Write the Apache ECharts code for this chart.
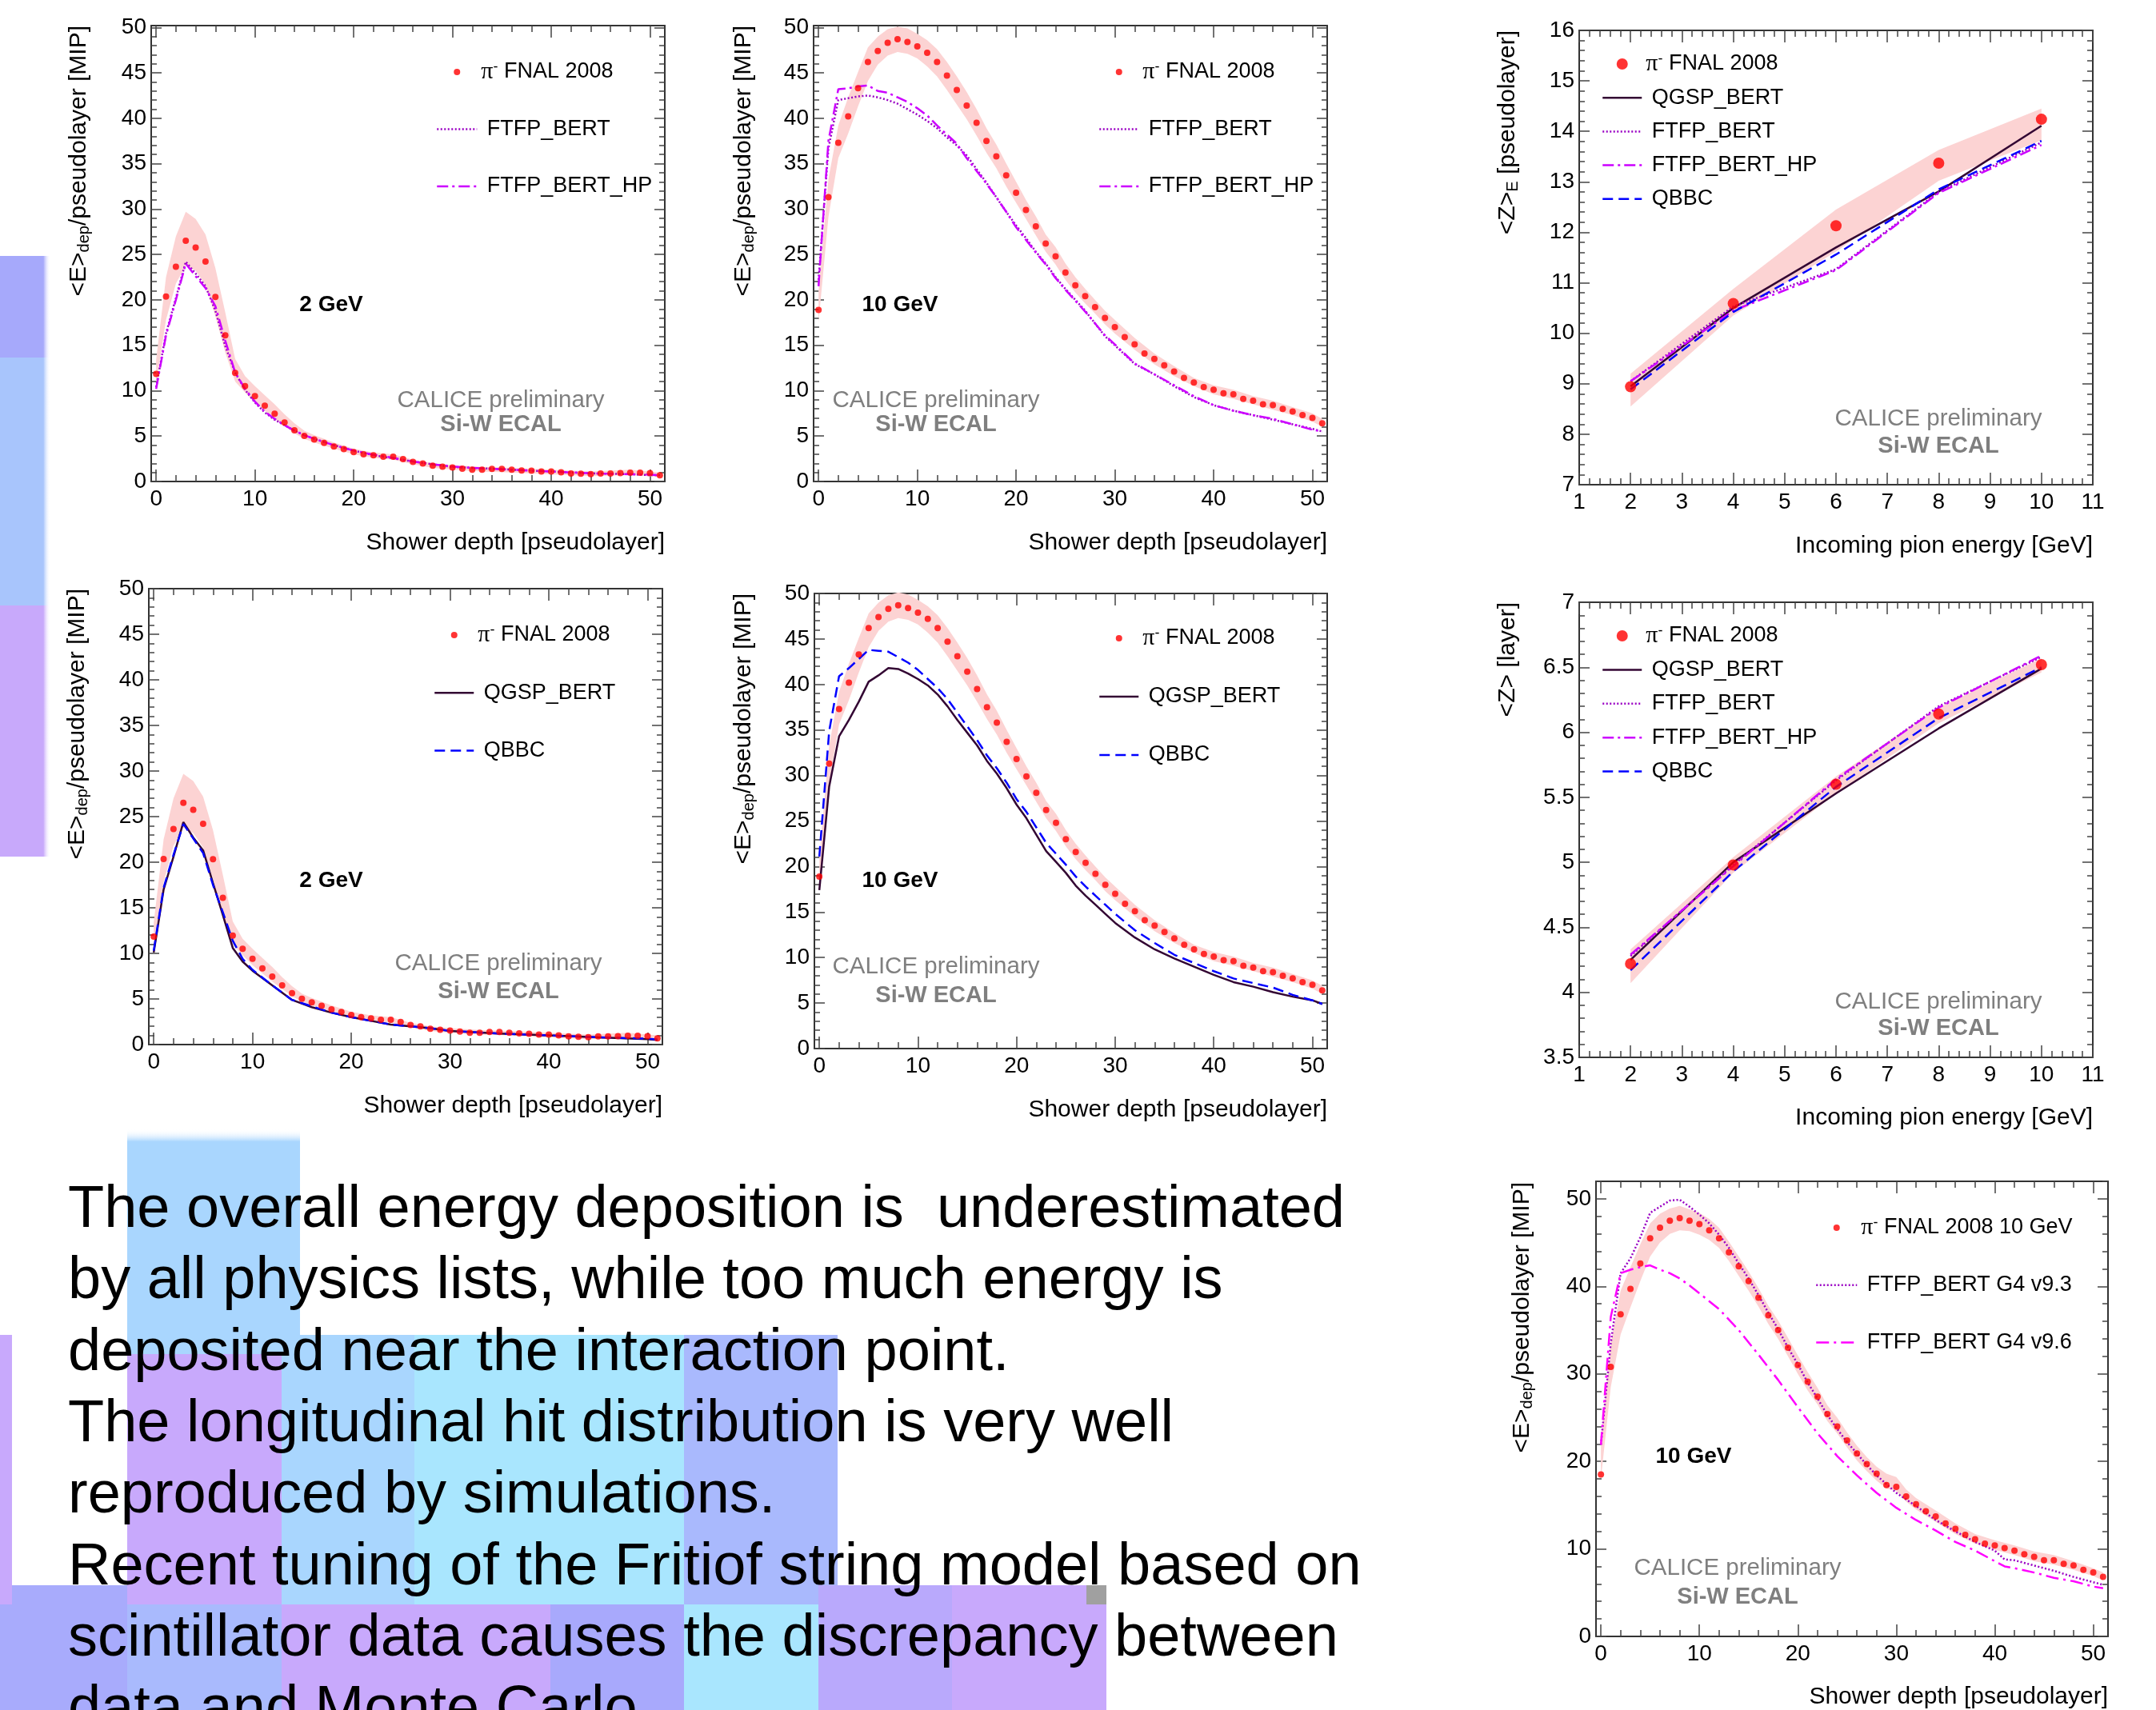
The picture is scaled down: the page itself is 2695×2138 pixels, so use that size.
<!DOCTYPE html>
<html><head><meta charset="utf-8">
<script src="https://cdn.jsdelivr.net/npm/echarts@6/dist/echarts.min.js"></script>
<style>html,body{margin:0;padding:0;background:#fff}#c{width:2695px;height:2138px}</style>
</head><body><div id="c"></div>
<script>
// ---------------- DATA ----------------
const depth = [0,1,2,3,4,5,6,7,8,9,10,11,12,13,14,15,16,17,18,19,20,21,22,23,24,25,26,27,28,29,30,31,32,33,34,35,36,37,38,39,40,41,42,43,44,45,46,47,48,49,50,51];
const pi2GeV = [11.84,20.36,23.64,26.52,25.75,24.21,20.32,16.10,11.96,10.50,9.41,8.35,7.46,6.49,5.64,5.03,4.62,4.26,3.85,3.57,3.24,3.00,2.88,2.72,2.72,2.47,2.15,1.99,1.74,1.62,1.54,1.42,1.30,1.30,1.38,1.38,1.30,1.22,1.18,1.09,1.09,1.01,0.89,0.85,0.81,0.89,0.89,0.93,0.97,0.97,0.93,0.69];
const pi10GeV = [18.9,31.3,37.3,40.2,43.3,46.2,47.4,48.3,48.7,48.4,47.9,47.2,46.2,44.7,43.1,41.4,39.5,37.5,35.8,33.7,31.8,29.9,28.1,26.2,24.8,23.0,21.6,20.4,19.2,18.0,17.0,15.9,15.1,14.1,13.5,12.8,12.1,11.4,10.9,10.4,10.1,9.7,9.6,9.1,8.9,8.5,8.4,8.0,7.7,7.3,7.0,6.4];
const pi10GeVb = [18.5,30.8,36.8,39.7,42.6,45.5,46.7,47.5,47.8,47.5,47.1,46.4,45.5,43.9,42.3,40.6,38.7,36.7,35.0,33.0,31.0,29.1,27.4,25.4,24.0,22.4,20.9,19.7,18.6,17.3,17.1,16.0,15.1,14.3,13.7,12.9,12.3,11.6,11.1,10.6,10.4,10.1,9.8,9.4,9.1,8.7,8.7,8.3,8.1,7.6,7.3,6.8];

const band2X  = [0,1,2,3,4,5,6,7,8,9,10,11,12,13,14,15,16,18,20,22,24,26,28,30,33,36,40,44,48,51];
const band2Lo = [10.8,17.8,21.8,23.8,23.2,21.6,18.2,14.2,11.0,9.8,8.7,7.8,6.9,6.1,5.3,4.7,4.3,3.6,3.0,2.6,2.4,1.9,1.5,1.3,1.1,1.0,0.8,0.6,0.7,0.5];
const band2Hi = [13.4,22.5,27.0,29.7,28.9,27.2,23.5,18.6,13.5,11.6,10.5,9.5,8.5,7.4,6.4,5.6,5.1,4.3,3.6,3.2,3.0,2.4,2.0,1.8,1.6,1.5,1.3,1.1,1.3,1.0];

const band10X  = [0,1,2,3,4,5,6,7,8,9,10,11,12,13,14,15,16,17,18,19,20,21,22,23,24,25,26,27,28,29,30,32,34,36,38,40,42,44,46,48,50,51];
const band10Lo = [17.5,29.1,35.6,38.3,41.3,44.1,45.9,46.9,47.3,47.1,46.6,45.7,44.6,43.1,41.5,39.9,38.1,36.2,34.5,32.5,30.7,28.9,27.1,25.3,23.9,22.2,20.8,19.6,18.5,17.3,16.3,14.5,12.9,11.6,10.5,9.6,9.1,8.5,7.9,7.3,6.6,6.0];
const band10Hi = [21.0,33.3,39.2,42.3,45.1,47.8,49.0,49.8,50.1,49.9,49.3,48.6,47.6,46.2,44.6,42.9,41.0,38.9,37.1,35.0,33.0,31.0,29.2,27.2,25.8,24.0,22.5,21.2,20.0,18.8,17.8,15.8,14.1,12.7,11.4,10.6,10.1,9.4,8.9,8.2,7.5,6.9];

const band7X  = [0,1,2,3,4,5,6,7,8,9,10,11,12,13,14,15,16,17,18,19,20,21,22,23,24,25,26,27,28,29,30,31,32,34,36,38,40,42,44,46,48,50,51];
const band7Lo = [18.0,28.5,34.5,37.6,40.6,43.4,45.0,46.0,46.4,46.3,45.9,45.3,44.4,42.9,41.2,39.5,37.7,35.7,34.0,32.0,30.0,28.1,26.5,24.6,23.2,21.6,20.1,18.9,17.8,16.9,16.6,15.4,14.5,13.1,11.7,10.6,9.9,9.3,8.6,8.2,7.6,6.9,6.4];
const band7Hi = [22.5,33.5,39.5,42.2,44.8,47.2,48.3,48.9,49.2,48.8,48.4,47.7,46.7,45.1,43.4,41.7,39.8,37.8,36.1,34.1,32.1,30.2,28.4,26.4,25.0,23.3,21.8,20.5,19.4,18.6,18.2,16.8,15.8,14.4,12.9,11.7,11.0,10.4,9.7,9.3,8.6,7.8,7.3];

const mc2X    = [0,1,2,3,4,5,6,7,8,9,10,11,12,13,14,15,16,18,20,22,24,26,28,30,32,34,36,38,40,42,44,46,48,50,51];
const ftfp2   = [10.4,16.3,20.2,24.2,22.9,21.5,18.8,14.9,12.0,10.1,8.7,7.6,6.8,6.2,5.6,5.1,4.7,4.0,3.4,2.9,2.55,2.2,1.9,1.6,1.5,1.4,1.3,1.2,1.1,1.0,0.9,0.85,0.8,0.7,0.69];
const ftfpHP2 = [10.2,16.1,20.0,24.0,22.6,21.3,19.3,15.5,12.0,10.2,8.8,7.7,6.9,6.2,5.6,5.1,4.7,4.0,3.4,2.95,2.6,2.2,1.9,1.65,1.5,1.4,1.3,1.2,1.1,1.0,0.9,0.85,0.8,0.75,0.7];
const mcQ2X   = [0,1,2,3,4,5,6,7,8,9,10,12,14,16,18,20,22,24,26,28,30,35,40,45,50,51];
const qgsp2   = [10.1,17.0,20.6,24.4,22.7,21.3,17.7,14.2,10.6,9.1,8.1,6.5,4.9,4.1,3.5,3.0,2.6,2.2,2.0,1.8,1.5,1.2,1.0,0.8,0.6,0.5];
const qbbc2   = [10.3,17.2,20.8,24.2,22.6,21.0,17.5,14.5,11.4,9.4,8.2,6.5,4.9,4.2,3.5,3.0,2.6,2.2,2.0,1.8,1.5,1.2,1.0,0.8,0.65,0.55];

const mc10X    = [0,1,2,3,4,5,6,7,8,9,10,11,12,13,14,15,16,17,18,19,20,21,22,23,24,25,26,27,28,29,30,32,34,36,38,40,42,44,46,48,50,51];
const ftfp10   = [22.2,36.7,42.0,42.2,42.4,42.5,42.3,42.0,41.6,41.0,40.4,39.7,38.9,37.9,37.0,35.9,34.4,32.9,31.3,29.7,28.2,26.8,25.3,24.0,22.5,21.2,20.0,18.8,17.4,16.0,15.0,12.95,11.8,10.5,9.3,8.4,7.8,7.3,6.8,6.3,5.8,5.5];
const ftfpHP10 = [21.5,37.5,43.2,43.3,43.5,43.6,43.0,42.8,42.3,41.8,41.1,40.3,39.2,38.2,37.2,35.6,34.2,32.8,31.3,29.7,28.0,26.6,25.2,23.9,22.4,21.1,19.9,18.7,17.4,16.1,15.1,13.0,11.8,10.6,9.4,8.4,7.8,7.3,6.9,6.3,5.7,5.5];
const qgsp10   = [17.4,28.8,34.3,36.1,38.1,40.3,41.0,41.8,41.7,41.2,40.6,39.9,38.9,37.6,36.1,34.7,33.3,31.6,30.2,28.6,26.8,25.3,23.5,21.7,20.5,19.3,17.9,16.8,15.8,14.8,13.8,12.2,10.9,9.9,9.0,8.1,7.3,6.8,6.2,5.7,5.3,4.9];
const qbbc10   = [21.1,34.9,40.9,41.8,42.8,43.8,43.7,43.6,43.0,42.4,41.6,40.6,39.6,38.4,36.9,35.4,33.9,32.2,30.8,29.2,27.4,26.0,24.3,22.6,21.4,20.2,18.9,17.8,16.8,15.8,14.8,13.0,11.6,10.3,9.4,8.5,7.7,7.2,6.7,5.9,5.3,4.9];

const mc93X = [0,1,2,3,4,5,6,7,8,9,10,11,12,13,14,15,16,17,18,19,20,21,22,23,24,25,26,27,28,29,30,32,34,36,38,40,41,42,44,46,48,50,51];
const g4v93 = [21.9,33.5,41.5,43.2,45.6,48.4,49.1,49.8,49.9,49.1,48.2,47.2,45.9,44.4,42.6,40.9,39.0,37.0,35.1,33.0,31.1,29.0,27.2,25.3,23.7,22.2,20.9,19.6,18.4,17.4,16.4,14.9,13.3,12.0,10.8,9.8,8.8,8.7,8.1,7.5,6.8,6.2,5.9];
const mc96X = [0,1,2,3,4,5,6,7,8,9,10,12,14,16,18,20,22,24,26,28,30,32,34,36,38,40,41,42,44,46,48,50,51];
const g4v96 = [21.9,36.5,41.5,41.9,42.2,42.4,41.9,41.5,40.9,40.1,39.2,37.4,35.0,32.2,29.3,26.2,23.2,20.6,18.4,16.4,14.7,13.3,12.1,10.8,9.8,8.6,8.0,7.8,7.3,6.7,6.3,5.7,5.5];

const energy    = [2,4,6,8,10];
const zE_pi     = [8.94,10.59,12.13,13.37,14.24];
const zE_lo     = [8.55,10.35,11.62,13.02,13.82];
const zE_hi     = [9.20,10.88,12.45,13.63,14.45];
const zE_qgsp   = [8.95,10.50,11.70,12.81,14.11];
const zE_ftfp   = [9.05,10.53,11.27,12.80,13.78];
const zE_ftfpHP = [9.05,10.45,11.25,12.78,13.73];
const zE_qbbc   = [8.89,10.42,11.56,12.85,13.81];

const z_pi     = [4.22,4.98,5.60,6.14,6.52];
const z_lo     = [4.07,4.92,5.53,6.07,6.46];
const z_hi     = [4.33,5.04,5.66,6.19,6.57];
const z_qgsp   = [4.25,5.00,5.53,6.03,6.49];
const z_ftfp   = [4.28,4.98,5.63,6.20,6.58];
const z_ftfpHP = [4.29,4.97,5.64,6.19,6.59];
const z_qbbc   = [4.17,4.93,5.58,6.11,6.50];

// tick labels
const depthTicks  = [0,10,20,30,40,50];
const mipTicks    = [0,5,10,15,20,25,30,35,40,45,50];
const mipTicks10  = [0,10,20,30,40,50];
const energyTicks = [1,2,3,4,5,6,7,8,9,10,11];
const zETicks     = [7,8,9,10,11,12,13,14,15,16];
const zTicks      = [3.5,4,4.5,5,5.5,6,6.5,7];

// ---------------- LAYOUT ----------------
const FONT = 'Liberation Sans';
const panels = [
  {g:[189,32,831,602],   x:[-0.5,51.5], y:[0,50.2], xMaj:depthTicks,  xStep:2,   yMaj:mipTicks,   yStep:1},
  {g:[1017,32,1659,602], x:[-0.5,51.5], y:[0,50.2], xMaj:depthTicks,  xStep:2,   yMaj:mipTicks,   yStep:1},
  {g:[1974,38,2616,606], x:[1,11],      y:[7,16],   xMaj:energyTicks, xStep:0.2, yMaj:zETicks,    yStep:0.2},
  {g:[186,736,828,1306], x:[-0.5,51.5], y:[0,50],   xMaj:depthTicks,  xStep:2,   yMaj:mipTicks,   yStep:1},
  {g:[1018,742,1659,1311],x:[-0.5,51.5],y:[0,50],   xMaj:depthTicks,  xStep:2,   yMaj:mipTicks,   yStep:1},
  {g:[1974,753,2616,1322],x:[1,11],     y:[3.5,7],  xMaj:energyTicks, xStep:0.2, yMaj:zTicks,     yStep:0.1},
  {g:[1995,1477,2635,2046],x:[-0.5,51.5],y:[0,52],  xMaj:depthTicks,  xStep:2,   yMaj:mipTicks10, yStep:2}
];
function minorTicks(lo, hi, step, majors) {
  const out = [];
  const n0 = Math.ceil(lo / step - 1e-9), n1 = Math.floor(hi / step + 1e-9);
  for (let n = n0; n <= n1; n++) {
    const v = +(n * step).toFixed(6);
    if (!majors.some(m => Math.abs(m - v) < 1e-6)) out.push(v);
  }
  return out;
}
const grids = [], xAxes = [], yAxes = [];
panels.forEach((p, i) => {
  grids.push({left:p.g[0], top:p.g[1], width:p.g[2]-p.g[0], height:p.g[3]-p.g[1], containLabel:false});
  const xMin = minorTicks(p.x[0], p.x[1], p.xStep, p.xMaj);
  const yMin = minorTicks(p.y[0], p.y[1], p.yStep, p.yMaj);
  const lab = {show:true, margin:8, fontSize:28, color:'#000', fontFamily:FONT};
  const line = {show:true, onZero:false, lineStyle:{color:'#333', width:2}};
  const noLine = {show:false, onZero:false};
  const tk = (vals, len) => ({show:true, inside:true, length:len, customValues:vals, lineStyle:{color:'#444', width:1.5}});
  const base = {gridIndex:i, type:'value', splitLine:{show:false}, minorTick:{show:false}};
  [['bottom',true],['top',false]].forEach(([pos, lbl]) => {
    xAxes.push(Object.assign({}, base, {position:pos, min:p.x[0], max:p.x[1], axisLine:line, axisTick:tk(p.xMaj,15),
      axisLabel: lbl ? Object.assign({}, lab, {customValues:p.xMaj}) : {show:false}}));
    xAxes.push(Object.assign({}, base, {position:pos, min:p.x[0], max:p.x[1], axisLine:noLine, axisTick:tk(xMin,8), axisLabel:{show:false}}));
  });
  [['left',true],['right',false]].forEach(([pos, lbl]) => {
    yAxes.push(Object.assign({}, base, {position:pos, min:p.y[0], max:p.y[1], axisLine:line, axisTick:tk(p.yMaj,13),
      axisLabel: lbl ? Object.assign({}, lab, {customValues:p.yMaj, margin:6}) : {show:false}}));
    yAxes.push(Object.assign({}, base, {position:pos, min:p.y[0], max:p.y[1], axisLine:noLine, axisTick:tk(yMin,7), axisLabel:{show:false}}));
  });
});

// ---------------- SERIES ----------------
const ST = {
  'FTFP_BERT':    {color:'#9a00c4', width:2.5, type:[2,2.5]},
  'FTFP_BERT_HP': {color:'#cc00ff', width:2.5, type:[14,5,3,5]},
  'QGSP_BERT':    {color:'#330633', width:2.5, type:'solid'},
  'QBBC':         {color:'#0000ff', width:2.5, type:[13,7]},
  'FTFP_BERT G4 v9.3': {color:'#9a00c4', width:2.5, type:[2,2.5]},
  'FTFP_BERT G4 v9.6': {color:'#ff00ff', width:2.5, type:[16,6,3,6]}
};
const pairs = (xs, ys) => xs.map((x, k) => [x, ys[k]]);
const series = [];
function band(pi, xs, lo, hi) {
  series.push({type:'custom', xAxisIndex:4*pi, yAxisIndex:4*pi, silent:true, z:1,
    data: xs.map((x, k) => [x, lo[k], hi[k]]), encode:{x:0, y:[1,2]},
    renderItem: (params, api) => {
      if (params.dataIndex !== 0) return null;
      const pts = [];
      for (let k = 0; k < xs.length; k++) pts.push(api.coord([xs[k], hi[k]]));
      for (let k = xs.length - 1; k >= 0; k--) pts.push(api.coord([xs[k], lo[k]]));
      return {type:'polygon', shape:{points:pts}, style:{fill:'#fcd3d3'}};
    }});
}
function mc(pi, name, xs, ys) {
  series.push({type:'line', name, xAxisIndex:4*pi, yAxisIndex:4*pi, data:pairs(xs, ys), symbol:'none',
    lineStyle:Object.assign({}, ST[name]), z:5, silent:true, animation:false});
}
function pts(pi, name, xs, ys, size) {
  series.push({type:'scatter', name, xAxisIndex:4*pi, yAxisIndex:4*pi, data:pairs(xs, ys), symbol:'circle',
    symbolSize:size, itemStyle:{color:'#ff0000'}, z:8, silent:true});
}
const PI = 'π- FNAL 2008', PI10 = 'π- FNAL 2008 10 GeV';
band(0, band2X, band2Lo, band2Hi); mc(0,'FTFP_BERT',mc2X,ftfp2); mc(0,'FTFP_BERT_HP',mc2X,ftfpHP2); pts(0,PI,depth,pi2GeV,8);
band(1, band10X, band10Lo, band10Hi); mc(1,'FTFP_BERT',mc10X,ftfp10); mc(1,'FTFP_BERT_HP',mc10X,ftfpHP10); pts(1,PI,depth,pi10GeV,8);
band(2, energy, zE_lo, zE_hi); mc(2,'QGSP_BERT',energy,zE_qgsp); mc(2,'FTFP_BERT',energy,zE_ftfp); mc(2,'FTFP_BERT_HP',energy,zE_ftfpHP); mc(2,'QBBC',energy,zE_qbbc); pts(2,PI,energy,zE_pi,14);
band(3, band2X, band2Lo, band2Hi); mc(3,'QGSP_BERT',mcQ2X,qgsp2); mc(3,'QBBC',mcQ2X,qbbc2); pts(3,PI,depth,pi2GeV,8);
band(4, band10X, band10Lo, band10Hi); mc(4,'QGSP_BERT',mc10X,qgsp10); mc(4,'QBBC',mc10X,qbbc10); pts(4,PI,depth,pi10GeV,8);
band(5, energy, z_lo, z_hi); mc(5,'QGSP_BERT',energy,z_qgsp); mc(5,'FTFP_BERT',energy,z_ftfp); mc(5,'FTFP_BERT_HP',energy,z_ftfpHP); mc(5,'QBBC',energy,z_qbbc); pts(5,PI,energy,z_pi,14);
band(6, band7X, band7Lo, band7Hi); mc(6,'FTFP_BERT G4 v9.3',mc93X,g4v93); mc(6,'FTFP_BERT G4 v9.6',mc96X,g4v96); pts(6,PI10,depth,pi10GeVb,8);

// ---------------- LEGENDS ----------------
function legItem(name) {
  if (name.startsWith('π')) return {name};
  const s = ST[name];
  return {name, itemStyle:{opacity:0}, lineStyle:{color:s.color, width:s.width, type:s.type, opacity:1}};
}
const rich = {
  pi:  {fontFamily:'Liberation Serif', fontSize:30, lineHeight:30, color:'#000'},
  sup: {fontFamily:FONT, fontSize:18, lineHeight:10, verticalAlign:'top', color:'#000'},
  t:   {fontFamily:FONT, fontSize:27, lineHeight:30, color:'#000'}
};
function legFmt(name) {
  if (name.startsWith('π')) return '{pi|π}{sup|-}{t| ' + name.slice(3) + '}';
  return '{t| ' + name + '}';
}
function legend(left, top, w, h, gap, names) {
  return {left, top, orient:'vertical', itemWidth:w, itemHeight:h, itemGap:gap, padding:0, selectedMode:false,
    data:names.map(legItem), formatter:legFmt, textStyle:{fontFamily:FONT, fontSize:27, lineHeight:30, color:'#000', rich},
    inactiveColor:'#000'};
}
const legends = [
  legend(545, 75, 50, 8, 41.5, [PI,'FTFP_BERT','FTFP_BERT_HP']),
  legend(1373, 75, 49, 8, 41.5, [PI,'FTFP_BERT','FTFP_BERT_HP']),
  legend(2002, 65, 49, 14, 12.2, [PI,'QGSP_BERT','FTFP_BERT','FTFP_BERT_HP','QBBC']),
  legend(542, 779, 49, 8, 42.2, [PI,'QGSP_BERT','QBBC']),
  legend(1373, 783, 49, 8, 43, [PI,'QGSP_BERT','QBBC']),
  legend(2002, 780, 49, 14, 12.4, [PI,'QGSP_BERT','FTFP_BERT','FTFP_BERT_HP','QBBC']),
  legend(2269, 1520, 51, 8, 41.7, [PI10,'FTFP_BERT G4 v9.3','FTFP_BERT G4 v9.6'])
];

// ---------------- TEXT & DECOR ----------------
const G = [];
const subRich = {sub:{fontFamily:FONT, fontSize:20, lineHeight:12, verticalAlign:'bottom', fill:'#000'},
                 m:{fontFamily:FONT, fontSize:30, lineHeight:32, fill:'#000'}};
function yTitle(x, yTop, txt) {
  G.push({type:'text', x, y:yTop, rotation:Math.PI/2, z:20,
    style:{text:txt, font:'30px "' + FONT + '"', fill:'#000', align:'right', verticalAlign:'middle', textAlign:'right', textVerticalAlign:'middle', rich:subRich}});
}
function txt(x, y, t, size, opt) {
  G.push({type:'text', x, y, z:20, style:Object.assign({text:t, font:(opt&&opt.bold?'bold ':'') + size + 'px "' + FONT + '"', fill:(opt&&opt.fill)||'#000',
    align:(opt&&opt.align)||'center', textAlign:(opt&&opt.align)||'center', verticalAlign:'middle', textVerticalAlign:'middle'})});
}
const EDEP = '{m|<E>}{sub|dep}{m|/pseudolayer [MIP]}';
const SD = 'Shower depth [pseudolayer]', IPE = 'Incoming pion energy [GeV]';
function calice(x, y1, y2) {
  txt(x, y1, 'CALICE preliminary', 29.5, {fill:'#7f7f7f'});
  txt(x, y2, 'Si-W ECAL', 29, {fill:'#7f7f7f', bold:true});
}
yTitle(99, 32, EDEP); txt(831, 679, SD, 30, {align:'right'}); txt(414, 381, '2 GeV', 28, {bold:true}); calice(626, 501, 531);
yTitle(930, 32, EDEP); txt(1659, 679, SD, 30, {align:'right'}); txt(1125, 381, '10 GeV', 28, {bold:true}); calice(1170, 501, 531);
yTitle(1885, 38, '{m|<Z>}{sub|E}{m| [pseudolayer]}'); txt(2616, 683, IPE, 30, {align:'right'}); calice(2423, 524, 558);
yTitle(97, 736, EDEP); txt(828, 1383, SD, 30, {align:'right'}); txt(414, 1101, '2 GeV', 28, {bold:true}); calice(623, 1205, 1240);
yTitle(930, 742, EDEP); txt(1659, 1388, SD, 30, {align:'right'}); txt(1125, 1101, '10 GeV', 28, {bold:true}); calice(1170, 1209, 1245);
yTitle(1885, 753, '{m|<Z> [layer]}'); txt(2616, 1398, IPE, 30, {align:'right'}); calice(2423, 1253, 1286);
yTitle(1903, 1478, EDEP); txt(2635, 2122, SD, 30, {align:'right'}); txt(2117, 1821, '10 GeV', 28, {bold:true}); calice(2172, 1961, 1997);

// decorative slide blocks (background)
const fadeR = c => ({type:'linear', x:0, y:0, x2:1, y2:0, colorStops:[{offset:0,color:c},{offset:0.86,color:c},{offset:1,color:'rgba(255,255,255,0)'}]});
const fadeT = c => ({type:'linear', x:0, y:0, x2:0, y2:1, colorStops:[{offset:0,color:'rgba(255,255,255,0)'},{offset:0.06,color:c},{offset:1,color:c}]});
const blocks = [
  [0,320,63,127,fadeR('#a6a9fb')],
  [0,447,63,310,fadeR('#a8c5fc')],
  [0,757,63,314,fadeR('#c8a9fb')],
  [159,1412,216,257,fadeT('#a9d6fe')],
  [159,1669,193,24,'#a9d6fe'],
  [159,1693,193,313,'#c8a9fc'],
  [352,1669,166,337,'#a9d6fe'],
  [518,1669,337,337,'#a9e6fe'],
  [855,1669,192,337,'#a9b9fd'],
  [0,1982,159,156,'#a8abfc'],
  [0,1669,15,337,'#c8a9fc'],
  [159,2006,193,132,'#a9bafd'],
  [352,2006,336,132,'#c8a9fc'],
  [688,2006,167,132,'#a8a9fc'],
  [855,2006,168,132,'#a9e6fe'],
  [1023,1982,167,156,'#b9a9fc'],
  [1190,1982,193,156,'#c8a9fc'],
  [1358,1982,25,24,'#a0a0a0']
];
blocks.forEach(b => G.push({type:'rect', z:0, silent:true, shape:{x:b[0], y:b[1], width:b[2], height:b[3]}, style:{fill:b[4]}}));

const paragraph = [
  'The overall energy deposition is  underestimated',
  'by all physics lists, while too much energy is',
  'deposited near the interaction point.',
  'The longitudinal hit distribution is very well',
  'reproduced by simulations.',
  'Recent tuning of the Fritiof string model based on',
  'scintillator data causes the discrepancy between',
  'data and Monte Carlo.'
];
G.push({type:'text', x:85, y:1469, z:20, style:{text:paragraph.join('\n'), font:'74px "' + FONT + '"', fill:'#000',
  lineHeight:89.3, align:'left', textAlign:'left', verticalAlign:'top', textVerticalAlign:'top'}});

const chart = echarts.init(document.getElementById('c'), null, {renderer:'canvas', width:2695, height:2138});
chart.setOption({
  backgroundColor:'#ffffff',
  animation:false,
  textStyle:{fontFamily:FONT},
  grid:grids, xAxis:xAxes, yAxis:yAxes,
  legend:legends,
  series,
  graphic:{elements:G}
});
</script></body></html>
